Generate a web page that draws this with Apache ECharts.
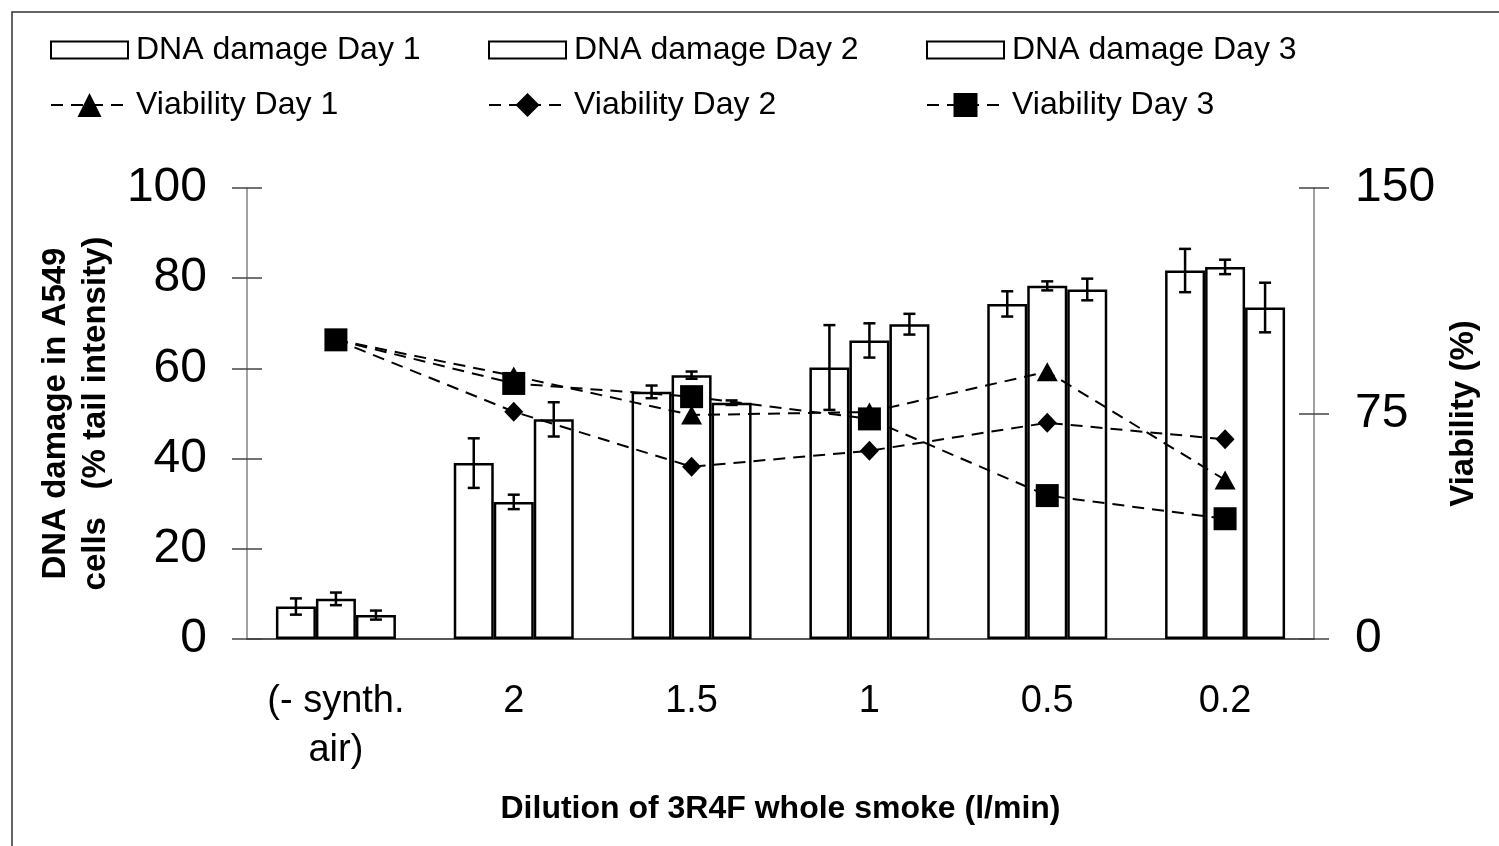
<!DOCTYPE html>
<html>
<head>
<meta charset="utf-8">
<title>DNA damage and viability</title>
<script src="https://cdn.jsdelivr.net/npm/echarts@6/dist/echarts.min.js"></script>
<style>
  html, body { margin: 0; padding: 0; background: #fff; }
  #chart { width: 1499px; height: 846px; }
</style>
</head>
<body>
<div id="chart"></div>
<script>
// data
const categories = ['(- synth.\nair)', '2', '1.5', '1', '0.5', '0.2']

const dnaDay1 = [7.2, 39.0, 54.8, 60.2, 74.3, 81.7]
const dnaDay1Err = [1.8, 5.5, 1.4, 9.4, 2.8, 4.8]
const dnaDay2 = [8.9, 30.4, 58.5, 66.2, 78.3, 82.5]
const dnaDay2Err = [1.4, 1.6, 0.8, 3.8, 1.0, 1.6]
const dnaDay3 = [5.3, 48.7, 52.4, 69.8, 77.5, 73.5]
const dnaDay3Err = [1.0, 3.8, 0.5, 2.3, 2.4, 5.5]

const viabilityDay1 = [99.5, 87.5, 74.5, 75.5, 88.9, 52.9]
const viabilityDay2 = [99.5, 75.6, 57.3, 62.6, 71.9, 66.4]
const viabilityDay3 = [99.5, 85.0, 80.6, 73.2, 47.7, 40.0]

const BAR_W = 40
const FONT = "'Liberation Sans', Arial, sans-serif"

const chart = echarts.init(document.getElementById('chart'))

function barSeries(name, values) {
  return {
    name: name,
    type: 'bar',
    xAxisIndex: 0,
    yAxisIndex: 0,
    data: values,
    barWidth: BAR_W,
    barGap: '0%',
    itemStyle: { color: '#fff', borderColor: '#000', borderWidth: 2.5 },
    emphasis: { disabled: true },
    z: 2
  }
}

// error bars, slot = -1 / 0 / 1 for the bar position inside a group
function errorSeries(values, errs, slot) {
  return {
    type: 'custom',
    xAxisIndex: 0,
    yAxisIndex: 0,
    silent: true,
    z: 5,
    encode: { x: 0, y: [1, 2] },
    data: values.map((v, i) => [i, v - errs[i], v + errs[i]]),
    renderItem: function (params, api) {
      const lo = api.coord([api.value(0), api.value(1)])
      const hi = api.coord([api.value(0), api.value(2)])
      const x = lo[0] + slot * BAR_W
      const half = 6
      const style = { stroke: '#000', lineWidth: 2.5 }
      return {
        type: 'group',
        children: [
          { type: 'line', shape: { x1: x, y1: lo[1], x2: x, y2: hi[1] }, style: style },
          { type: 'line', shape: { x1: x - half, y1: lo[1], x2: x + half, y2: lo[1] }, style: style },
          { type: 'line', shape: { x1: x - half, y1: hi[1], x2: x + half, y2: hi[1] }, style: style }
        ]
      }
    }
  }
}

function lineSeries(name, values, symbol, size) {
  return {
    name: name,
    type: 'line',
    xAxisIndex: 0,
    yAxisIndex: 1,
    data: values,
    symbol: symbol,
    symbolSize: size,
    lineStyle: { color: '#000', width: 2, type: [12, 8] },
    itemStyle: { color: '#000' },
    emphasis: { disabled: true },
    z: 10
  }
}

function legendAt(name, left, top, isLine) {
  const l = {
    data: [name],
    left: left,
    top: top,
    itemWidth: 77,
    itemHeight: isLine ? 30 : 17,
    itemGap: 0,
    selectedMode: false,
    textStyle: { fontSize: 32, color: '#000', fontFamily: FONT, padding: [0, 0, 0, 3] }
  }
  if (!isLine) l.icon = 'rect'
  return l
}

const gridBox = { left: 247, right: 185, top: 188, bottom: 207 }
const tickStyle = { color: '#444', width: 1.5 }

const option = {
  animation: false,
  backgroundColor: '#fff',
  graphic: [
    {
      type: 'rect',
      shape: { x: 12, y: 12, width: 1600, height: 1000 },
      style: { fill: 'none', stroke: '#333', lineWidth: 1.5 },
      z: -1
    }
  ],
  legend: [
    legendAt('DNA damage Day 1', 45, 29, false),
    legendAt('DNA damage Day 2', 483, 29, false),
    legendAt('DNA damage Day 3', 921, 29, false),
    legendAt('Viability Day 1', 45, 84, true),
    legendAt('Viability Day 2', 483, 84, true),
    legendAt('Viability Day 3', 921, 84, true)
  ],
  // second grid on top of the first only carries the inner half of the ticks
  grid: [Object.assign({}, gridBox), Object.assign({}, gridBox)],
  xAxis: [
    {
      type: 'category',
      gridIndex: 0,
      data: categories,
      axisLine: { lineStyle: { color: '#222', width: 1.5 } },
      axisTick: { length: 12, lineStyle: tickStyle },
      axisLabel: { fontSize: 38, color: '#000', fontFamily: FONT, margin: 38, lineHeight: 49, interval: 0 },
      name: 'Dilution of 3R4F whole smoke (l/min)',
      nameLocation: 'middle',
      nameGap: 154,
      nameTextStyle: { fontSize: 32, fontWeight: 'bold', color: '#000', fontFamily: FONT }
    },
    {
      type: 'category',
      gridIndex: 1,
      data: categories,
      axisLine: { show: false },
      axisTick: { inside: true, length: 12, lineStyle: tickStyle },
      axisLabel: { show: false }
    }
  ],
  yAxis: [
    {
      type: 'value',
      gridIndex: 0,
      position: 'left',
      min: 0,
      max: 100,
      interval: 20,
      splitLine: { show: false },
      axisLine: { show: true, lineStyle: { color: '#808080', width: 1.5 } },
      axisTick: { show: true, length: 15, lineStyle: tickStyle },
      axisLabel: { fontSize: 48, color: '#000', fontFamily: FONT, margin: 40 },
      name: 'DNA damage in A549\ncells   (% tail intensity)',
      nameLocation: 'middle',
      nameRotate: 90,
      nameGap: 131,
      nameTextStyle: { fontSize: 33, fontWeight: 'bold', color: '#000', fontFamily: FONT, lineHeight: 40 }
    },
    {
      type: 'value',
      gridIndex: 0,
      position: 'right',
      min: 0,
      max: 150,
      interval: 75,
      splitLine: { show: false },
      axisLine: { show: true, lineStyle: { color: '#808080', width: 1.5 } },
      axisTick: { show: true, length: 15, lineStyle: tickStyle },
      axisLabel: { fontSize: 48, color: '#000', fontFamily: FONT, margin: 41 },
      name: 'Viability (%)',
      nameLocation: 'middle',
      nameRotate: 90,
      nameGap: 133,
      nameTextStyle: { fontSize: 33, fontWeight: 'bold', color: '#000', fontFamily: FONT }
    },
    {
      type: 'value',
      gridIndex: 1,
      position: 'left',
      min: 0,
      max: 100,
      interval: 20,
      splitLine: { show: false },
      axisLine: { show: false },
      axisTick: { show: true, inside: true, length: 15, lineStyle: tickStyle },
      axisLabel: { show: false }
    },
    {
      type: 'value',
      gridIndex: 1,
      position: 'right',
      min: 0,
      max: 150,
      interval: 75,
      splitLine: { show: false },
      axisLine: { show: false },
      axisTick: { show: true, inside: true, length: 15, lineStyle: tickStyle },
      axisLabel: { show: false }
    }
  ],
  series: [
    barSeries('DNA damage Day 1', dnaDay1),
    barSeries('DNA damage Day 2', dnaDay2),
    barSeries('DNA damage Day 3', dnaDay3),
    errorSeries(dnaDay1, dnaDay1Err, -1),
    errorSeries(dnaDay2, dnaDay2Err, 0),
    errorSeries(dnaDay3, dnaDay3Err, 1),
    lineSeries('Viability Day 1', viabilityDay1, 'triangle', [21, 19]),
    lineSeries('Viability Day 2', viabilityDay2, 'diamond', [19, 20]),
    lineSeries('Viability Day 3', viabilityDay3, 'rect', 23)
  ]
}

chart.setOption(option)
</script>
</body>
</html>
